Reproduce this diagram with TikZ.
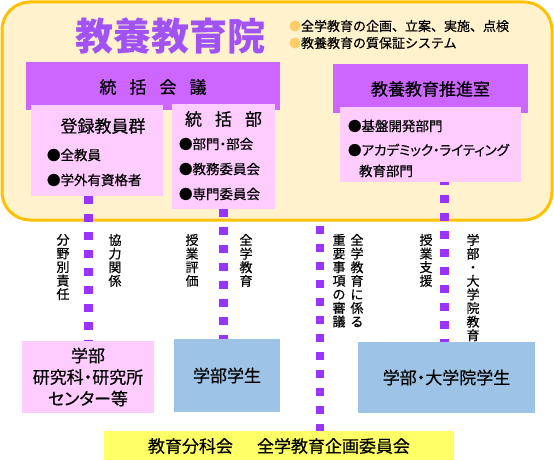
\documentclass[tikz,border=0pt]{standalone}
\usepackage{fontspec}
\setmainfont{Noto Sans CJK JP}
\newfontfamily\jpt{Noto Sans CJK JP}
\newfontfamily\jp[FakeBold=0.5]{Noto Sans CJK JP}
\newfontfamily\jpp[RawFeature=+palt,FakeBold=0.5]{Noto Sans CJK JP}
\definecolor{goldc}{RGB}{255,192,0}
\definecolor{creamc}{RGB}{255,242,204}
\definecolor{titlec}{RGB}{160,82,245}
\definecolor{violetc}{RGB}{204,102,255}
\definecolor{pinkc}{RGB}{255,204,255}
\definecolor{bluec}{RGB}{157,195,230}
\definecolor{yellowc}{RGB}{255,255,102}
\definecolor{dotc}{RGB}{153,51,255}
\definecolor{orangec}{RGB}{255,204,102}
\begin{document}
\begin{tikzpicture}[x=1pt,y=-1pt,
  every node/.style={inner sep=0pt,outer sep=0pt},
  outerbox/.style={draw=goldc,line width=3pt,fill=creamc,rounded corners=28pt},
  vbox/.style={fill=violetc},
  pbox/.style={fill=pinkc},
  bbox/.style={fill=bluec},
  ybox/.style={fill=yellowc},
  big/.style={font=\jp\fontsize{17}{21.5}\selectfont,align=center},
  item/.style={font=\jp\fontsize{13.5}{16}\selectfont,anchor=west},
  itemp/.style={font=\jpp\fontsize{13.5}{16}\selectfont,anchor=west},
  head/.style={font=\jp\fontsize{13}{16}\selectfont,anchor=west},
  lbl/.style={font=\jp\fontsize{13}{13.6}\selectfont,align=center,anchor=north},
  dotline/.style={draw=dotc,line width=8.5pt,dash pattern=on 8pt off 10pt},
  hdot/.style={circle,fill=orangec,minimum size=11pt}]
\useasboundingbox (0,0) rectangle (554,460);

% outer frame
\node[outerbox,minimum width=550pt,minimum height=218pt] (outer) at (277,111) {};

% coordinates for connectors
\coordinate (l1) at (88.5,196);
\coordinate (l2) at (223.5,209);
\coordinate (l3) at (320,226);
\coordinate (l4) at (444.5,177);

% bottom boxes (defined early for connector ends)
\node[pbox,minimum width=132pt,minimum height=72pt] (fac) at (88,377) {};
\node[bbox,minimum width=106pt,minimum height=73pt] (ug) at (227,375.5) {};
\node[bbox,minimum width=177pt,minimum height=71pt] (gs) at (446.5,377.5) {};
\node[ybox,minimum width=350pt,minimum height=30pt] (com) at (279,446) {};

% connectors
\draw[dotline] (l1) -- (l1 |- fac.north);
\draw[dotline] (l2) -- (l2 |- ug.north);
\draw[dotline] (l3) -- (l3 |- com.north);
\draw[dotline] (l4) -- (l4 |- gs.north);

% redraw bottom boxes on top of connectors
\fill[pinkc] (fac.south west) rectangle (fac.north east);
\fill[bluec] (ug.south west) rectangle (ug.north east);
\fill[bluec] (gs.south west) rectangle (gs.north east);
\fill[yellowc] (com.south west) rectangle (com.north east);

% title and header notes
\node[font=\jpt\bfseries\fontsize{38}{40}\selectfont,text=titlec] (title) at (170,36) {教養教育院};
\node[hdot] (hd1) at (295,26) {};
\node[hdot] (hd2) at (295,43) {};
\node[head] (h1) at (301,26) {全学教育の企画、立案、実施、点検};
\node[head] (h2) at (301,43) {教養教育の質保証システム};

% 統括会議
\node[vbox,minimum width=254pt,minimum height=48pt,big] (ctrl) at (153,86) {};
\node[big] (ctrlt) at (153,87) {統\hspace{13pt}括\hspace{13pt}会\hspace{13pt}議};

% 登録教員群
\node[pbox,minimum width=132pt,minimum height=91pt] (reg) at (97,150.5) {};
\node[big] (regt) at (103,126) {登録教員群};
\node[item] (reg1) at (47,155) {●全教員};
\node[item] (reg2) at (47,180) {●学外有資格者};

% 統括部
\node[pbox,minimum width=103pt,minimum height=105pt] (sob) at (223.5,156.5) {};
\node[big] (sobt) at (223.5,119) {統\hspace{13pt}括\hspace{13pt}部};
\node[itemp] (sob1) at (179,144) {●部門・部会};
\node[item] (sob2) at (179,169) {●教務委員会};
\node[item] (sob3) at (179,194) {●専門委員会};

% 教養教育推進室
\node[vbox,minimum width=195pt,minimum height=49pt] (pro) at (430.5,88.5) {};
\node[big] (prot) at (430.5,89) {教養教育推進室};
\node[pbox,minimum width=181pt,minimum height=75pt] (prob) at (430.5,144.5) {};
\node[item] (pro1) at (348,126) {●基盤開発部門};
\node[itemp] (pro2) at (348,150) {●アカデミック・ライティング};
\node[item] (pro3) at (359,171) {教育部門};

% vertical labels
\node[lbl] (v1) at (63,234) {分\\野\\別\\責\\任};
\node[lbl] (v2) at (115,234) {協\\力\\関\\係};
\node[lbl] (v3) at (192,234) {授\\業\\評\\価};
\node[lbl] (v4) at (246,234) {全\\学\\教\\育};
\node[lbl] (v5) at (339,234) {重\\要\\事\\項\\の\\審\\議};
\node[lbl] (v6) at (357,234) {全\\学\\教\\育\\に\\係\\る};
\node[lbl] (v7) at (426,234) {授\\業\\支\\援};
\node[lbl] (v8) at (473,234) {学\\部\\・\\大\\学\\院\\教\\育};

% bottom texts
\node[big,font=\jpp\fontsize{17}{21.5}\selectfont] (fact) at (fac.center) {学部\\研究科・研究所\\センター等};
\node[big] (ugt) at (ug.center) {学部学生};
\node[big,font=\jpp\fontsize{17}{21.5}\selectfont] (gst) at (gs.center) {学部・大学院学生};
\node[big] (comt) at (com.center) {教育分科会\hspace{24pt}全学教育企画委員会};
\end{tikzpicture}
\end{document}
